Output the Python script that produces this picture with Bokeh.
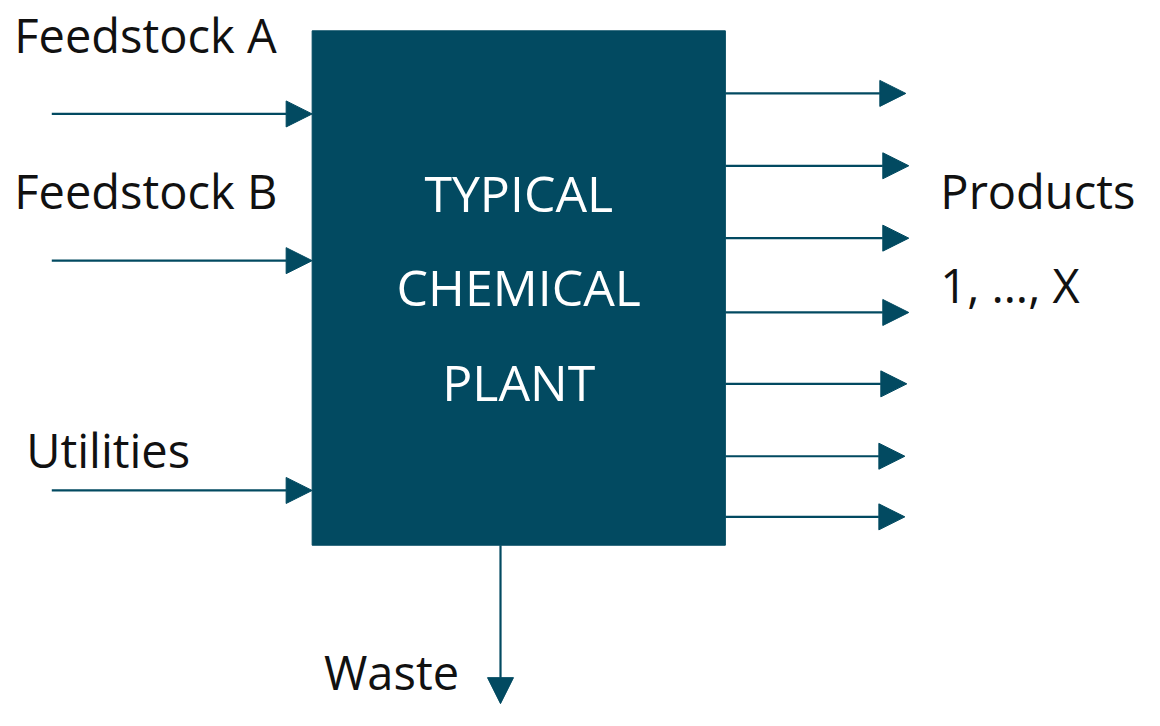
from bokeh.plotting import figure
from bokeh.models import Range1d, Arrow, NormalHead, ColumnDataSource
from bokeh.core.properties import value
from bokeh.embed import file_html
from bokeh.resources import INLINE

TEAL = "#024A61"
FONT = "Open Sans"

# Diagram content
box_labels = ["TYPICAL", "CHEMICAL", "PLANT"]
box_label_y = [218, 314, 411]
input_labels = ["Feedstock A", "Feedstock B", "Utilities"]
input_label_x = [14, 14, 26]
input_label_y = [56, 216, 481]
input_arrow_y = [116, 266, 501]
output_arrow_y = [95, 169, 243, 319, 392, 466, 528]
output_arrow_tip = [918, 921, 921, 921, 919, 917, 917]
output_labels = ["Products", "1, \u2026, X"]
output_label_y = [216, 312]
waste_label_y = 708

BOX_L, BOX_R, BOX_T, BOX_B = 316, 735, 31, 557
SHIFT = 21  # renderer baseline offset compensation

p = figure(width=1144, height=710, output_backend="svg", toolbar_location=None,
           x_range=Range1d(0, 1160), y_range=Range1d(726, 0), min_border=0)
p.axis.visible = False
p.grid.visible = False
p.outline_line_color = None
p.background_fill_color = "white"
p.border_fill_color = "white"

p.quad(left=[BOX_L], right=[BOX_R], top=[BOX_T], bottom=[BOX_B],
       fill_color=TEAL, line_color=TEAL)

def arrows(xs, ys, xe, ye):
    src = ColumnDataSource(dict(xs=xs, ys=ys, xe=xe, ye=ye))
    p.add_layout(Arrow(end=NormalHead(size=26, fill_color=TEAL, line_color=TEAL, line_width=1),
                       x_start="xs", y_start="ys", x_end="xe", y_end="ye",
                       source=src, line_color=TEAL, line_width=2.2))

arrows([52] * len(input_arrow_y), input_arrow_y, [BOX_L] * len(input_arrow_y), input_arrow_y)
arrows([BOX_R] * len(output_arrow_y), output_arrow_y, output_arrow_tip, output_arrow_y)
arrows([507], [BOX_B], [507], [719])

def labels(xs, ys, txt, size, color, align="left"):
    p.text(x=xs, y=[v - SHIFT for v in ys], text=txt,
           text_font=value(FONT), text_font_size=size, text_color=color,
           text_baseline="alphabetic", text_align=align)

labels(input_label_x, input_label_y, input_labels, "47px", "#111111")
labels([953] * 2, output_label_y, output_labels, "47px", "#111111")
labels([328], [waste_label_y], ["Waste"], "47px", "#111111")
labels([(BOX_L + BOX_R) / 2] * 3, box_label_y, box_labels, "50px", "white", "center")

open("out.html", "w").write(file_html(p, INLINE))
